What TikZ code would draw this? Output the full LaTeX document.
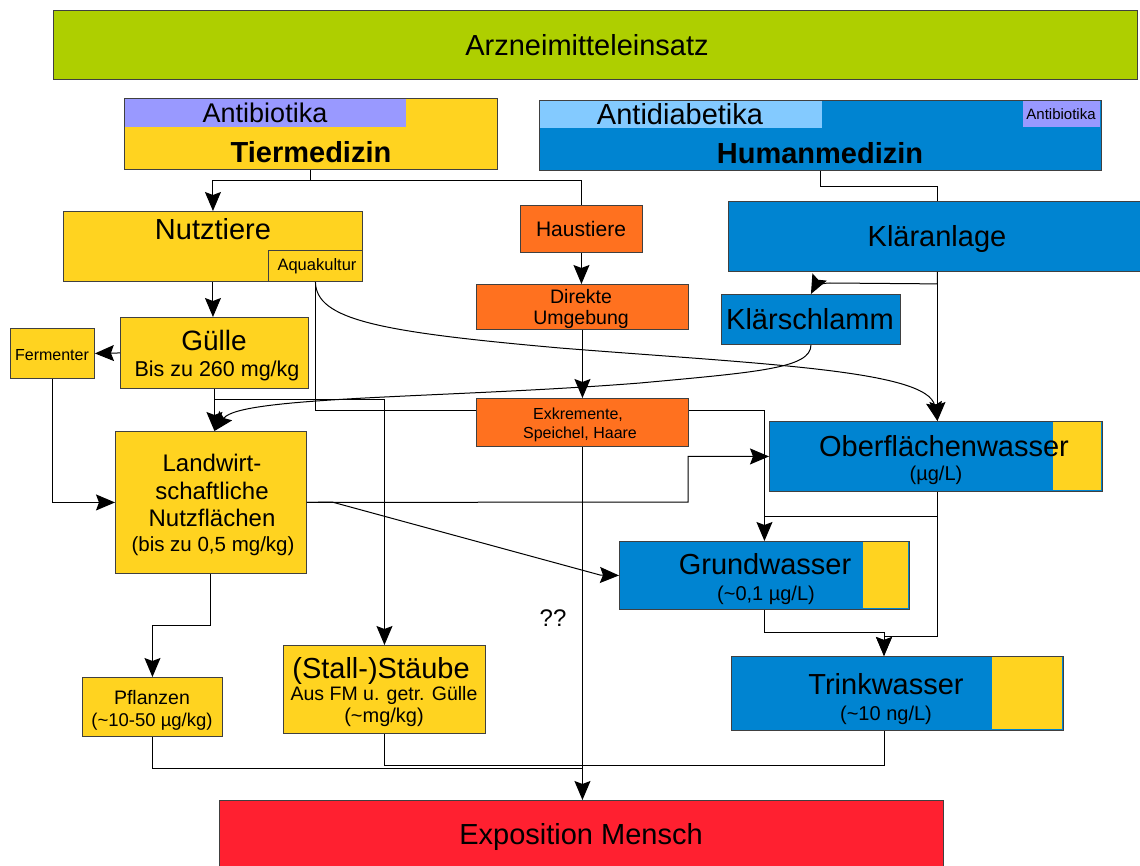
\documentclass[tikz,border=0pt]{standalone}
\usepackage{fontspec}
\setmainfont{Liberation Sans}
\usetikzlibrary{arrows.meta}
\definecolor{cgreen}{RGB}{174,207,0}
\definecolor{cyellow}{RGB}{255,211,32}
\definecolor{clilac}{RGB}{153,153,255}
\definecolor{clblue}{RGB}{131,202,255}
\definecolor{cblue}{RGB}{0,132,209}
\definecolor{corange}{RGB}{255,113,31}
\definecolor{cred}{RGB}{255,32,48}
\newcommand{\fs}[1]{\fontsize{#1}{#1}\selectfont}
\begin{document}
\begin{tikzpicture}[x=1pt,y=-1pt,
  box/.style={draw=black!75,line width=0.9pt,inner sep=0pt,anchor=north west},
  lbl/.style={inner sep=0pt,anchor=base},
  conn/.style={draw=black,line width=1pt},
  arr/.style={conn,-{Stealth[length=19pt,width=16pt,inset=3pt]}}]
\useasboundingbox (0,0) rectangle (1140,866);
% boxes
\node[box,fill=cgreen,minimum width=1084pt,minimum height=69pt] (arz) at (53,10) {};
\node[box,fill=cyellow,minimum width=373pt,minimum height=71pt] (tier) at (124,98) {};
\fill[clilac] (125,99) rectangle (406,127);
\node[box,fill=cblue,minimum width=562pt,minimum height=70pt] (human) at (539,100) {};
\fill[clblue] (540,101) rectangle (822,128);
\node[fill=clilac,inner sep=0pt,minimum width=77pt,minimum height=26pt,anchor=north west] (hab) at (1023,101) {};
\node[box,fill=cyellow,minimum width=299pt,minimum height=70pt] (nutz) at (63,211) {};
\node[box,fill=cyellow,minimum width=94pt,minimum height=31pt] (aqua) at (268,250) {};
\node[box,fill=corange,minimum width=122pt,minimum height=47pt] (haus) at (520,205) {};
\node[box,fill=cblue,minimum width=418pt,minimum height=70pt] (klaer) at (728,201) {};
\node[box,fill=corange,minimum width=212pt,minimum height=45pt] (direkt) at (476,284) {};
\node[box,fill=cblue,minimum width=179pt,minimum height=50pt] (schlamm) at (721,294) {};
\node[box,fill=cyellow,minimum width=188pt,minimum height=71pt] (guelle) at (120,317) {};
\node[box,fill=cyellow,minimum width=84pt,minimum height=50pt] (ferm) at (10,328) {};
\node[box,fill=corange,minimum width=212pt,minimum height=48pt] (exkr) at (476,398) {};
\node[box,fill=cyellow,minimum width=191pt,minimum height=142pt] (land) at (115,431) {};
\node[box,fill=cblue,minimum width=333pt,minimum height=70pt] (ober) at (769,421) {};
\fill[cyellow] (1053,422) rectangle (1101,490);
\node[box,fill=cblue,minimum width=290pt,minimum height=68pt] (grund) at (619,541) {};
\fill[cyellow] (863,542) rectangle (908,608);
\node[box,fill=cblue,minimum width=332pt,minimum height=74pt] (trink) at (731,656) {};
\fill[cyellow] (992,657) rectangle (1062,729);
\node[box,fill=cyellow,minimum width=140pt,minimum height=59pt] (pfl) at (82,677) {};
\node[box,fill=cyellow,minimum width=202pt,minimum height=88pt] (staub) at (283,645) {};
\node[box,fill=cred,minimum width=724pt,minimum height=80pt] (expo) at (219,800) {};
% texts
\node[lbl,font=\fs{29}] (t-arz) at (587,56) {Arzneimitteleinsatz};
\node[lbl,font=\fs{27}] (t-ab1) at (265,123) {Antibiotika};
\node[lbl,font=\fs{29}\bfseries] (t-tier) at (311,163) {Tiermedizin};
\node[lbl,font=\fs{29}] (t-adia) at (680,125) {Antidiabetika};
\node[lbl,font=\fs{29}\bfseries] (t-human) at (820,164) {Humanmedizin};
\node[lbl,font=\fs{15}] (t-ab2) at (1061,120) {Antibiotika};
\node[lbl,font=\fs{29}] (t-nutz) at (213,240) {Nutztiere};
\node[lbl,font=\fs{16.5}] (t-aqua) at (317,271) {Aquakultur};
\node[lbl,font=\fs{21}] (t-haus) at (581,237) {Haustiere};
\node[lbl,font=\fs{29}] (t-klaer) at (937,247) {Kläranlage};
\node[lbl,font=\fs{19.5}] (t-dir1) at (581,304) {Direkte};
\node[lbl,font=\fs{19.5}] (t-dir2) at (581,325) {Umgebung};
\node[lbl,font=\fs{29}] (t-schl) at (810,330) {Klärschlamm};
\node[lbl,font=\fs{28}] (t-gul1) at (214,351) {Gülle};
\node[lbl,font=\fs{21.5}] (t-gul2) at (217,377) {Bis zu 260 mg/kg};
\node[lbl,font=\fs{16}] (t-ferm) at (52,360) {Fermenter};
\node[lbl,font=\fs{16}] (t-ex1) at (578,419) {Exkremente,};
\node[lbl,font=\fs{16}] (t-ex2) at (580,438) {Speichel, Haare};
\node[lbl,font=\fs{24}] (t-la1) at (212,471) {Landwirt-};
\node[lbl,font=\fs{24}] (t-la2) at (212,499) {schaftliche};
\node[lbl,font=\fs{24}] (t-la3) at (212,526) {Nutzflächen};
\node[lbl,font=\fs{20.5}] (t-la4) at (213,551) {(bis zu 0,5 mg/kg)};
\node[lbl,font=\fs{29}] (t-ob1) at (944,456) {Oberflächenwasser};
\node[lbl,font=\fs{20}] (t-ob2) at (936,480) {(µg/L)};
\node[lbl,font=\fs{29}] (t-gr1) at (765,574) {Grundwasser};
\node[lbl,font=\fs{20}] (t-gr2) at (766,600) {(\textasciitilde0,1 µg/L)};
\node[lbl,font=\fs{29}] (t-tr1) at (886,694) {Trinkwasser};
\node[lbl,font=\fs{20}] (t-tr2) at (886,720) {(\textasciitilde10 ng/L)};
\node[lbl,font=\fs{19.5}] (t-pf1) at (152,704) {Pflanzen};
\node[lbl,font=\fs{18.5}] (t-pf2) at (152,726) {(\textasciitilde10-50 µg/kg)};
\node[lbl,font=\fs{29}] (t-st1) at (381,678) {(Stall-)Stäube};
\node[lbl,font=\fs{19.5}] (t-st2) at (384,700) {Aus FM u. getr. Gülle};
\node[lbl,font=\fs{20}] (t-st3) at (384,722) {(\textasciitilde mg/kg)};
\node[lbl,font=\fs{24}] (t-qq) at (553,626) {??};
\node[lbl,font=\fs{29}] (t-expo) at (581,844) {Exposition Mensch};
% connectors
\coordinate (tx) at (884,0);
\draw[arr] (tier.south) -- ++(0,11) -| (nutz.north);
\draw[conn] (tier.south) -- ++(0,11) -| (haus.north);
\draw[arr] (haus.south) -- (haus.south |- direkt.north);
\draw[arr] (direkt.south) -- (exkr.north);
\draw[conn] (human.south) -- ++(0,16) -| (klaer.north);
\draw[arr] (klaer.south) -- ++(0,12) -- (830,283) .. controls (820,283) and (814,288) .. (schlamm.north);
\draw[arr] (klaer.south) -- (klaer.south |- ober.north);
\draw[arr] (nutz.south) -- (nutz.south |- guelle.north);
\draw[arr] (guelle.west) -- (ferm.east);
\draw[arr] (ferm.south) |- (land.west);
\draw[arr] (guelle.south) -- (guelle.south |- land.north);
\draw[arr] (guelle.south) -- ++(0,11) -| (staub.north);
\draw[conn] (aqua.south) |- ([yshift=12pt]exkr.west);
\draw[arr] ([yshift=12pt]exkr.east) -| (grund.north);
\draw[arr] (aqua.south) .. controls (316,320) and (380,332) .. (560,348) .. controls (760,364) and (928,370) .. (ober.north -| klaer.south);
\draw[arr] (schlamm.south) .. controls (811,368) and (760,372) .. (640,383) .. controls (450,398) and (240,396) .. (guelle.south |- land.north);
\draw[arr] (land.east) -- (688,502) |- (ober.west);
\draw[arr] (land.east) -- (332,502) -- (600,575) -- (grund.west);
\draw[arr] (exkr.south) -- (exkr.south |- expo.north);
\draw[arr] (land.south) -- ++(0,52) -| (pfl.north);
\draw[conn] (pfl.south) |- (exkr.south |- 0,768);
\draw[conn] (staub.south) |- (exkr.south |- 0,765);
\draw[conn] (tx |- trink.south) |- (exkr.south |- 0,765);
\draw[conn] (klaer.south |- ober.south) |- (grund.north |- 0,516);
\draw[arr] (klaer.south |- ober.south) |- (tx |- 0,636) -- (tx |- trink.north);
\draw[arr] (grund.south) |- (tx |- 0,632) -- (tx |- trink.north);
\end{tikzpicture}
\end{document}
